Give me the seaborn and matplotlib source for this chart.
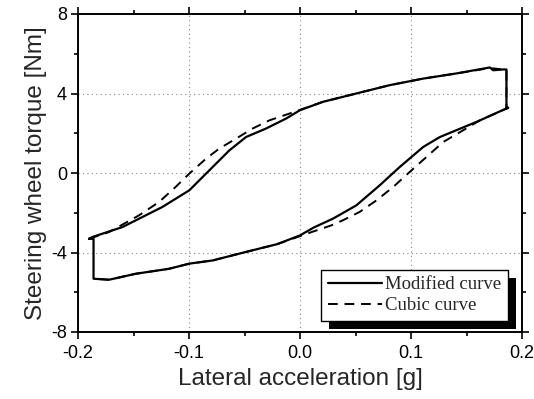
import matplotlib
matplotlib.use("Agg")
import matplotlib.pyplot as plt
import seaborn as sns
import pandas as pd
from matplotlib.patches import Rectangle
from matplotlib.ticker import MultipleLocator

# --- data ---
mod_x = [-0.190, -0.187, -0.160, -0.124, -0.0997, -0.0787, -0.0636, -0.0486, -0.0305, -0.0125,
         0.000, 0.0206, 0.0507, 0.0808, 0.111, 0.141, 0.171, 0.174, 0.183, 0.186,
         0.186, 0.1876, 0.159, 0.126, 0.111, 0.0898, 0.0718, 0.0507, 0.0296, 0.0125,
         0.000, -0.0206, -0.0507, -0.0787, -0.0997, -0.118, -0.148, -0.172, -0.186, -0.186, -0.190]
mod_y = [-3.31, -3.22, -2.72, -1.71, -0.87, 0.30, 1.14, 1.81, 2.24, 2.74,
         3.16, 3.58, 4.00, 4.42, 4.75, 5.01, 5.31, 5.17, 5.21, 5.21,
         3.24, 3.29, 2.57, 1.81, 1.31, 0.30, -0.62, -1.63, -2.30, -2.74,
         -3.14, -3.58, -4.00, -4.40, -4.56, -4.82, -5.07, -5.37, -5.32, -3.31, -3.31]

cub_x = [-0.190, -0.172, -0.145, -0.127, -0.112, -0.0997, -0.0847, -0.0727, -0.0576, -0.0426,
         -0.0275, -0.0095, 0.0206, 0.0507, 0.0808, 0.111, 0.141, 0.171, 0.183, 0.186,
         0.186, 0.162, 0.147, 0.129, 0.114, 0.0988, 0.0838, 0.0688, 0.0537, 0.0386,
         0.0275, 0.0095, -0.0206, -0.0507, -0.0787, -0.0997, -0.118, -0.148, -0.172, -0.186]
cub_y = [-3.31, -2.97, -2.13, -1.46, -0.70, -0.03, 0.72, 1.23, 1.73, 2.24,
         2.65, 2.99, 3.58, 4.00, 4.42, 4.75, 5.01, 5.28, 5.21, 5.21,
         3.24, 2.65, 2.15, 1.56, 0.81, 0.05, -0.71, -1.38, -1.96, -2.38,
         -2.65, -2.99, -3.58, -4.00, -4.40, -4.56, -4.82, -5.07, -5.37, -5.32]

series_names = ["Modified curve", "Cubic curve"]
x_ticks = [-0.2, -0.1, 0.0, 0.1, 0.2]
x_ticklabels = ["-0.2", "-0.1", "0.0", "0.1", "0.2"]
y_ticks = [-8, -4, 0, 4, 8]
y_ticklabels = ["-8", "-4", "0", "4", "8"]

df_mod = pd.DataFrame({"x": mod_x, "y": mod_y})
df_cub = pd.DataFrame({"x": cub_x, "y": cub_y})

sns.set_style("ticks")
plt.rcParams["font.family"] = ["Liberation Sans", "DejaVu Sans"]

fig = plt.figure(figsize=(5.34, 3.99), dpi=100)
ax = fig.add_axes([78 / 534, 1 - 332 / 399, 444 / 534, 318 / 399])

sns.lineplot(data=df_mod, x="x", y="y", sort=False, estimator=None, ax=ax,
             color="black", lw=1.6, label=series_names[0])
sns.lineplot(data=df_cub, x="x", y="y", sort=False, estimator=None, ax=ax,
             color="black", lw=1.4, label=series_names[1])
ax.lines[1].set_linestyle((0, (5, 3.5)))

ax.set_xlim(-0.2, 0.2)
ax.set_ylim(-8, 8)
ax.set_xticks(x_ticks)
ax.set_xticklabels(x_ticklabels)
ax.set_yticks(y_ticks)
ax.set_yticklabels(y_ticklabels)
ax.xaxis.set_minor_locator(MultipleLocator(0.05))
ax.yaxis.set_minor_locator(MultipleLocator(2))
ax.tick_params(which="both", direction="out", top=True, right=True, color="black",
               width=1.2, labelsize=13, labelcolor="black")
ax.tick_params(which="major", length=5)
ax.tick_params(which="minor", length=3)
ax.tick_params(axis="x", pad=4)
ax.tick_params(axis="y", pad=3)
for s in ax.spines.values():
    s.set_linewidth(1.4)
    s.set_color("black")
ax.grid(True, which="major", color="#888888", linestyle=(0, (1, 3)), lw=0.8)

ax.set_xlabel("Lateral acceleration [g]", fontsize=17.5, labelpad=5)
ax.set_ylabel("Steering wheel torque [Nm]", fontsize=17.5, labelpad=3)

handles, labels = ax.get_legend_handles_labels()
leg = ax.legend(handles, labels, loc="lower right", bbox_to_anchor=(0.968, 0.035),
                prop={"family": "Liberation Serif", "size": 13.5},
                frameon=True, fancybox=False, framealpha=1, edgecolor="black",
                borderpad=0.35, labelspacing=0.2, handlelength=2.9, handletextpad=0.15,
                borderaxespad=0.0)
leg.get_frame().set_linewidth(1.0)
leg.set_zorder(5)

fig.canvas.draw()
bb = leg.get_window_extent().transformed(ax.transAxes.inverted())
dx, dy = 8 / 444, -8 / 318
ax.add_patch(Rectangle((bb.x0 + dx, bb.y0 + dy), bb.width, bb.height,
                       transform=ax.transAxes, facecolor="black", edgecolor="none",
                       zorder=4, clip_on=False))

fig.savefig("out.png", dpi=100)
